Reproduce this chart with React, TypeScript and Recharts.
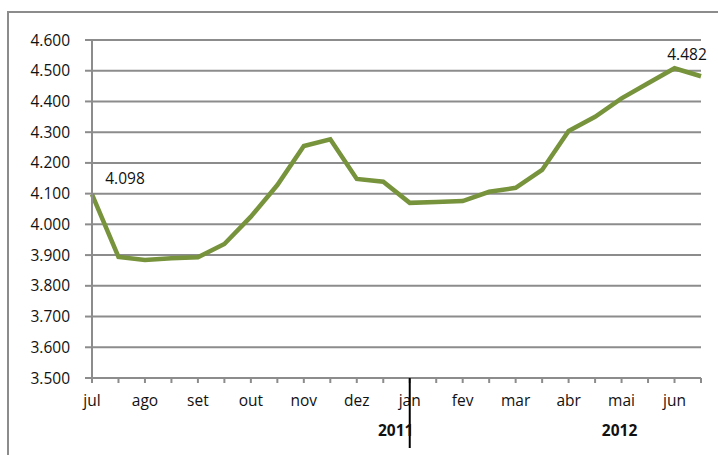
import { CartesianGrid, LabelList, Line, LineChart, XAxis, YAxis } from "recharts";

const months = ["jul", "ago", "set", "out", "nov", "dez", "jan", "fev", "mar", "abr", "mai", "jun"];

// two readings per month, jul .. jun
const values = [
  4.098, 3.894, 3.884, 3.89, 3.893, 3.936, 4.025, 4.128, 4.255, 4.277, 4.148, 4.139,
  4.07, 4.073, 4.076, 4.106, 4.119, 4.177, 4.304, 4.35, 4.41, 4.459, 4.508, 4.482,
];

const yTicks = [3.5, 3.6, 3.7, 3.8, 3.9, 4.0, 4.1, 4.2, 4.3, 4.4, 4.5, 4.6];

const years = [
  { label: "2011", month: "jan" },
  { label: "2012", month: "mai" },
];

const labeledPoints = [0, values.length - 1];

const data = values.map((v, i) => ({
  period: `${months[Math.floor(i / 2)]}-${(i % 2) + 1}`,
  value: v,
  label: labeledPoints.includes(i) ? v : null,
}));

const FONT = "'Open Sans', sans-serif";
const GRID = "#8c8c8c";
const GREEN = "#77933C";
const TEXT = "#111";

const fmt = (v: number) => v.toFixed(3);

const MonthTick = (props: any) => {
  const { x, y, payload } = props;
  const [m, half] = String(payload.value).split("-");
  const year = years.find((yr) => yr.month === m);
  return (
    <g>
      {half === "1" && (
        <text x={x} y={y + 11} textAnchor="middle" fontSize={15.5} fontFamily={FONT} fill={TEXT}>
          {m}
        </text>
      )}
      {half === "1" && m === "jan" && (
        <line x1={x} y1={y - 17} x2={x} y2={y + 53} stroke="#000" strokeWidth={2} />
      )}
      {half === "1" && year && (
        <text
          x={x + (m === "jan" ? -14 : -2)}
          y={y + 41}
          textAnchor="middle"
          fontSize={15.5}
          fontWeight="bold"
          fontFamily={FONT}
          fill={TEXT}
        >
          {year.label}
        </text>
      )}
    </g>
  );
};

const PointLabel = (props: any) => {
  const { x, y, value } = props;
  if (value == null) return null;
  const first = x < 200;
  return (
    <text
      x={x + (first ? 33 : -14)}
      y={y + (first ? -10 : -16)}
      textAnchor="middle"
      fontSize={15.5}
      fontFamily={FONT}
      fill={TEXT}
    >
      {fmt(Number(value))}
    </text>
  );
};

export default function App() {
  return (
    <div style={{ position: "relative", width: 718, height: 455, background: "#fff", overflow: "hidden" }}>
      <style>{"body{margin:0}"}</style>
      <div
        style={{
          position: "absolute",
          left: 7,
          top: 11,
          width: 740,
          height: 480,
          borderTop: `2px solid ${GRID}`,
          borderLeft: `2px solid ${GRID}`,
        }}
      />
      <LineChart
        width={718}
        height={455}
        data={data}
        margin={{ top: 40, right: 17, bottom: 47, left: 0 }}
        style={{ position: "absolute", left: 0, top: 0 }}
      >
        <CartesianGrid vertical={false} stroke={GRID} strokeWidth={2} />
        <XAxis
          dataKey="period"
          scale="point"
          interval={0}
          height={30}
          tickSize={5}
          tickMargin={12}
          axisLine={{ stroke: GRID, strokeWidth: 2 }}
          tickLine={{ stroke: GRID, strokeWidth: 2 }}
          tick={<MonthTick />}
        />
        <YAxis
          width={92}
          domain={[3.5, 4.6]}
          ticks={yTicks}
          tickFormatter={fmt}
          tickSize={7}
          tickMargin={15}
          axisLine={{ stroke: GRID, strokeWidth: 2 }}
          tickLine={{ stroke: GRID, strokeWidth: 2 }}
          tick={{ fontSize: 15.5, fontFamily: FONT, fill: TEXT }}
          allowDataOverflow
        />
        <Line
          type="linear"
          dataKey="value"
          stroke={GREEN}
          strokeWidth={4.5}
          dot={false}
          isAnimationActive={false}
        >
          <LabelList dataKey="label" content={<PointLabel />} />
        </Line>
      </LineChart>
    </div>
  );
}
